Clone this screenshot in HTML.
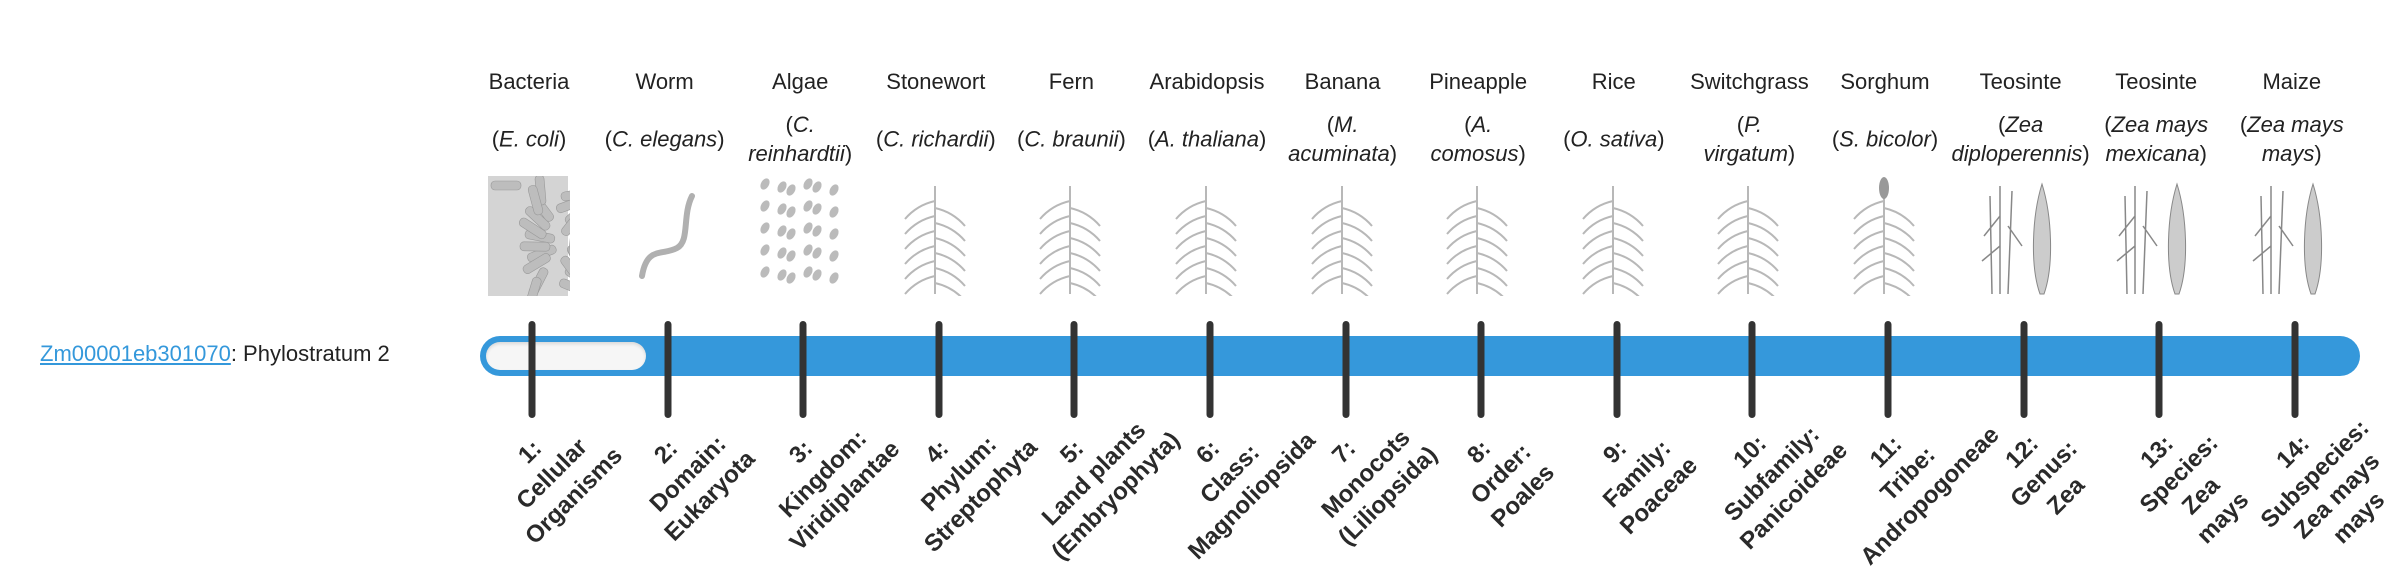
<!DOCTYPE html>
<html><head><meta charset="utf-8">
<style>
html,body{margin:0;padding:0;background:#fff;width:2400px;height:580px;overflow:hidden;position:relative;font-family:"Liberation Sans",sans-serif;color:#222}
.h{position:absolute;width:140px;text-align:center;font-size:22px;transform:translate(-50%,-50%);white-space:nowrap}
.sp{position:absolute;width:150px;text-align:center;font-size:22px;line-height:29px;transform:translate(-50%,-50%);white-space:nowrap}
.sp i{font-style:italic}
.img{position:absolute;top:176px;width:84px;height:120px;transform:translateX(-50%)}
.tick{position:absolute;top:321px;width:7px;height:97px;background:#333;border-radius:4px;transform:translateX(-50%)}
.lab{position:absolute;width:200px;text-align:center;font-size:24px;font-weight:bold;line-height:31px;color:#2a2a2a;transform:translate(-50%,-50%) rotate(-45deg);white-space:nowrap}
</style></head><body>
<div style="position:absolute;left:40px;top:341px;font-size:22px;white-space:nowrap"><span style="color:#3498db;text-decoration:underline">Zm00001eb301070</span>: Phylostratum 2</div>
<div style="position:absolute;left:480px;top:336px;width:1880px;height:40px;background:#3598db;border-radius:20px"></div>
<div style="position:absolute;left:486px;top:342px;width:160px;height:28px;background:#f6f6f6;border-radius:14px;box-shadow:inset 0 2px 3px rgba(0,0,0,0.12)"></div>
<div id="c"></div>
<script>
var H=["Bacteria","Worm","Algae","Stonewort","Fern","Arabidopsis","Banana","Pineapple","Rice","Switchgrass","Sorghum","Teosinte","Teosinte","Maize"];
var S=["(<i>E. coli</i>)","(<i>C. elegans</i>)","(<i>C.</i><br><i>reinhardtii</i>)","(<i>C. richardii</i>)","(<i>C. braunii</i>)","(<i>A. thaliana</i>)","(<i>M.</i><br><i>acuminata</i>)","(<i>A.</i><br><i>comosus</i>)","(<i>O. sativa</i>)","(<i>P.</i><br><i>virgatum</i>)","(<i>S. bicolor</i>)","(<i>Zea</i><br><i>diploperennis</i>)","(<i>Zea mays</i><br><i>mexicana</i>)","(<i>Zea mays</i><br><i>mays</i>)"];
var L=[["1:","Cellular","Organisms"],["2:","Domain:","Eukaryota"],["3:","Kingdom:","Viridiplantae"],["4:","Phylum:","Streptophyta"],["5:","Land plants","(Embryophyta)"],["6:","Class:","Magnoliopsida"],["7:","Monocots","(Liliopsida)"],["8:","Order:","Poales"],["9:","Family:","Poaceae"],["10:","Subfamily:","Panicoideae"],["11:","Tribe:","Andropogoneae"],["12:","Genus:","Zea"],["13:","Species:","Zea","mays"],["14:","Subspecies:","Zea mays","mays"]];
function plant(k){
 var g='#b8b8b8',s='';
 if(k==0){s='<rect x="2" y="0" width="80" height="120" fill="#d4d4d4"/>';for(var j=0;j<22;j++){var x=5+(j*37)%75,y=5+(j*23)%110,a=(j*53)%180;s+='<rect x="'+x+'" y="'+y+'" width="30" height="9" rx="4" fill="#bdbdbd" stroke="#999" stroke-width="0.6" transform="rotate('+a+' '+(x+15)+' '+(y+4)+')"/>'}}
 else if(k==1){s='<path d="M20 100 C25 70 40 80 55 72 C68 65 60 40 70 20" stroke="#b0b0b0" stroke-width="6" fill="none" stroke-linecap="round"/>'}
 else if(k==2){for(var j=0;j<30;j++){var x=8+(j%6)*13+(j%2)*4,y=8+Math.floor(j/6)*22+(j%3)*3;s+='<ellipse cx="'+x+'" cy="'+y+'" rx="4" ry="6" fill="#bbb" transform="rotate(30 '+x+' '+y+')"/>'}}
 else if(k==11||k==12||k==13){s='<g stroke="#888" stroke-width="1.5" fill="none"><path d="M22 118 L22 10 M30 118 L34 15 M14 118 L12 20 M22 40 L6 60 M30 50 L44 70 M22 70 L4 85"/></g><path d="M62 118 C52 90 54 40 64 8 C74 40 76 90 66 118Z" fill="#ccc" stroke="#888"/>'}
 else {s='<g stroke="'+g+'" stroke-width="2" fill="none"><path d="M42 118 L42 10"/>';for(var j=0;j<6;j++){var y=25+j*15;s+='<path d="M42 '+y+' Q24 '+(y+4)+' 12 '+(y+18)+'"/><path d="M42 '+(y+7)+' Q60 '+(y+11)+' 72 '+(y+25)+'"/>'}s+='</g>';if(k==10)s+='<ellipse cx="42" cy="12" rx="5" ry="11" fill="#999"/>'}
 return '<svg class="img" width="84" height="120" viewBox="0 0 84 120">'+s+'</svg>';
}
var o='';
for(var i=0;i<14;i++){
 var x=532+135.6*i;
 o+='<div class="h" style="left:'+(x-3)+'px;top:82px">'+H[i]+'</div>';
 o+='<div class="sp" style="left:'+(x-3)+'px;top:139px">'+S[i]+'</div>';
 o+='<div style="position:absolute;left:'+(x-4)+'px;top:0">'+plant(i)+'</div>';
 o+='<div class="tick" style="left:'+x+'px"></div>';
 var n=L[i].length;
 o+='<div class="lab" style="left:'+(x+20+(n-3)*11)+'px;top:'+(474+(n-3)*11)+'px">'+L[i].join('<br>')+'</div>';
}
document.getElementById('c').innerHTML=o;
</script>
</body></html>
